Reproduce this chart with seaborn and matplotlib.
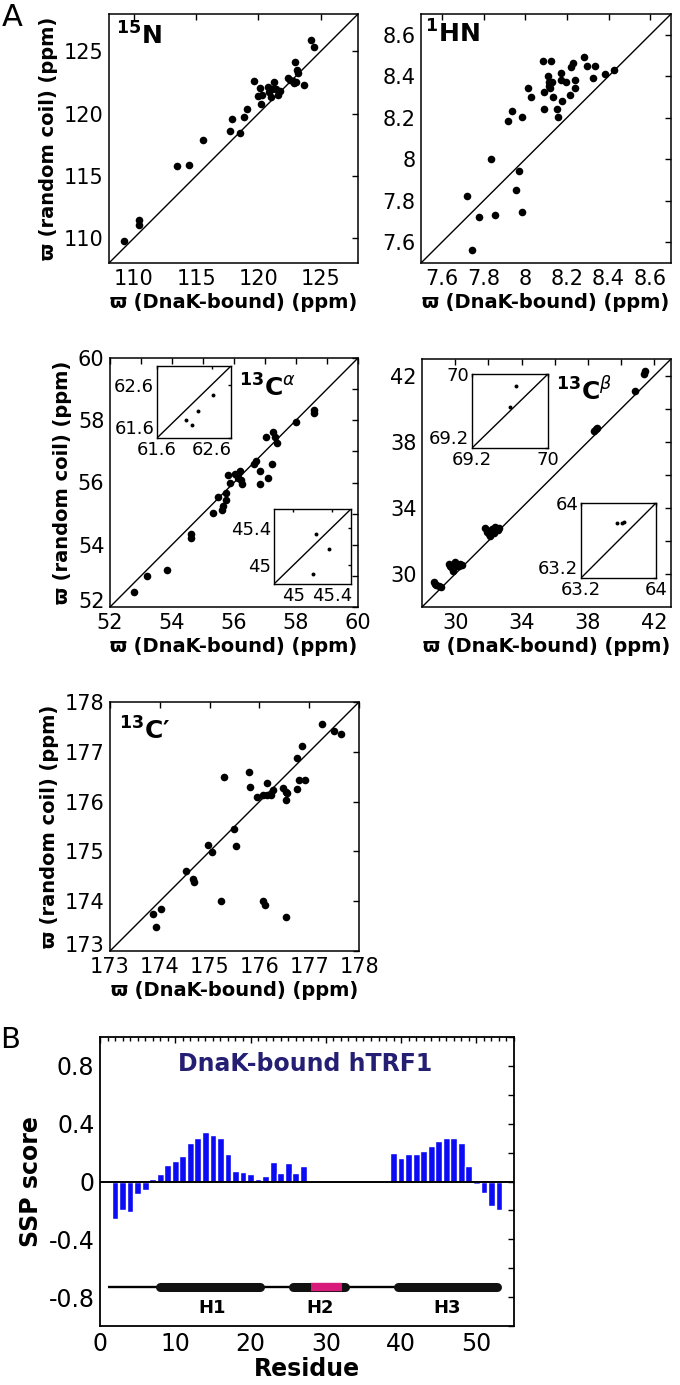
import matplotlib
matplotlib.use("Agg")
import matplotlib.pyplot as plt
from matplotlib.ticker import MultipleLocator
from matplotlib.transforms import ScaledTranslation
import numpy as np
import pandas as pd
import seaborn as sns

# ---------------- data ----------------
n15_bound = [109.23, 110.44, 110.44, 113.49, 114.40, 115.52, 117.75, 117.85, 118.52, 118.84, 119.08,
             119.67, 119.94, 120.15, 120.18, 120.31, 120.74, 120.85, 121.00, 121.28, 121.39, 121.55,
             121.76, 121.06, 122.35, 122.54, 122.94, 123.07, 123.20, 123.00, 123.64, 124.22, 124.49,
             122.75, 122.83]
n15_coil = [109.80, 111.45, 111.05, 115.79, 115.87, 117.85, 118.58, 119.57, 118.42, 119.70, 120.34,
            122.59, 121.44, 122.08, 120.77, 121.49, 122.16, 121.75, 121.35, 122.56, 121.95, 121.49,
            121.84, 122.00, 122.83, 122.70, 124.12, 123.50, 123.23, 122.52, 122.27, 125.91, 125.38,
            122.65, 122.43]

hn_bound = [7.745, 7.722, 7.778, 7.857, 7.836, 7.954, 7.970, 7.986, 7.916, 7.937, 7.986, 8.015,
            8.030, 8.086, 8.124, 8.092, 8.092, 8.110, 8.113, 8.120, 8.128, 8.133, 8.153, 8.158,
            8.172, 8.173, 8.175, 8.197, 8.213, 8.220, 8.228, 8.239, 8.239, 8.284, 8.298, 8.324,
            8.337, 8.382, 8.428, 8.116]
hn_coil = [7.563, 7.823, 7.722, 7.731, 8.003, 7.852, 7.942, 7.744, 8.183, 8.233, 8.202, 8.342,
           8.302, 8.473, 8.473, 8.242, 8.322, 8.403, 8.370, 8.342, 8.373, 8.302, 8.242, 8.202,
           8.414, 8.380, 8.282, 8.373, 8.311, 8.443, 8.462, 8.380, 8.342, 8.491, 8.451, 8.392,
           8.451, 8.411, 8.432, 8.355]

ca_bound = [52.78, 53.20, 53.84, 54.60, 54.61, 55.33, 55.49, 55.60, 55.66, 55.73, 55.75, 55.82,
            55.87, 56.03, 56.12, 56.19, 56.23, 56.27, 56.14, 56.65, 56.70, 56.85, 56.83, 57.02,
            57.11, 57.22, 57.27, 57.32, 57.38, 58.01, 58.59, 58.59]
ca_coil = [52.48, 52.98, 53.19, 54.34, 54.23, 55.03, 55.55, 55.12, 55.25, 55.45, 55.65, 56.25,
           56.00, 56.27, 56.16, 56.38, 56.07, 55.96, 56.27, 56.59, 56.68, 56.36, 55.95, 57.45,
           56.14, 56.59, 57.61, 57.47, 57.26, 57.93, 58.33, 58.23]
ca_in1_bound = [62.62, 62.34, 62.13, 62.23]
ca_in1_coil = [62.41, 62.10, 61.93, 61.85]
ca_in2_bound = [45.24, 45.37, 45.20]
ca_in2_coil = [45.33, 45.17, 44.91]

cb_bound = [28.70, 28.80, 28.86, 29.00, 29.15, 29.60, 29.68, 29.75, 29.87, 30.00, 30.10, 30.20,
            30.30, 30.40, 31.82, 31.90, 31.95, 32.02, 32.12, 32.22, 32.32, 32.42, 32.55, 32.62,
            38.38, 38.48, 38.56, 40.81, 41.35, 41.45]
cb_coil = [29.49, 29.42, 29.35, 29.30, 29.19, 30.60, 30.45, 30.40, 30.20, 30.70, 30.45, 30.50,
           30.62, 30.55, 32.78, 32.55, 32.60, 32.42, 32.32, 32.72, 32.50, 32.82, 32.65, 32.78,
           38.66, 38.77, 38.85, 41.04, 42.10, 42.25]
cb_in1_bound = [69.66, 69.60]
cb_in1_coil = [69.87, 69.64]
cb_in2_bound = [63.58, 63.64, 63.66]
cb_in2_coil = [63.79, 63.79, 63.80]

co_bound = [173.86, 173.92, 174.02, 174.53, 174.67, 174.69, 174.97, 175.05, 175.23, 175.28,
            175.48, 175.53, 175.80, 175.81, 175.95, 176.07, 176.12, 176.08, 176.15, 176.15,
            176.23, 176.28, 176.47, 176.53, 176.56, 176.53, 176.54, 176.76, 176.80, 176.92,
            176.76, 176.86, 177.25, 177.50, 177.63]
co_coil = [173.74, 173.49, 173.84, 174.61, 174.45, 174.39, 175.13, 174.99, 174.00, 176.50,
           175.45, 175.10, 176.59, 176.30, 176.10, 174.00, 173.93, 176.14, 176.14, 176.37,
           176.14, 176.24, 176.27, 176.20, 176.17, 176.03, 173.68, 176.25, 176.43, 176.43,
           176.88, 177.12, 177.56, 177.41, 177.36]

ssp_res = list(range(2, 28)) + list(range(39, 54))
ssp_val = [-0.257, -0.200, -0.210, -0.084, -0.056, 0.016, 0.053, 0.114, 0.140, 0.176, 0.265,
           0.300, 0.340, 0.320, 0.300, 0.190, 0.074, 0.067, 0.053, 0.020, 0.040, 0.135, 0.058,
           0.125, 0.060, 0.110,
           0.197, 0.160, 0.188, 0.188, 0.213, 0.248, 0.278, 0.300, 0.300, 0.265, 0.107, -0.016,
           -0.077, -0.170, -0.197]

helix_names = ["H1", "H2", "H3"]
helix_start = [7.4, 25.0, 39.05]
helix_end = [21.9, 33.1, 53.3]
helix_label_x = [14.9, 29.2, 46.1]
h2_marked = (28.0, 32.1)
ss_coil_span = (1.0, 53.3)

# ---------------- style ----------------
sns.set_theme(style="white")
plt.rcParams["font.family"] = ["DejaVu Sans"]
plt.rcParams["mathtext.fontset"] = "dejavusans"
for k in ["text.color", "axes.labelcolor", "xtick.color", "ytick.color", "axes.edgecolor"]:
    plt.rcParams[k] = "black"

W, H = 680, 1385
fig = plt.figure(figsize=(W / 100, H / 100), dpi=100)


def rect(x0, y0, x1, y1):
    return [x0 / W, 1 - y1 / H, (x1 - x0) / W, (y1 - y0) / H]


def style_axes(ax, lw=1.1):
    for sp in ax.spines.values():
        sp.set_visible(True)
        sp.set_color("black")
        sp.set_linewidth(lw)
    ax.tick_params(which="both", direction="in", top=True, right=True,
                   color="black", width=1.0)
    ax.grid(False)
    ax.set_facecolor("white")


XLAB = "ϖ (DnaK-bound) (ppm)"
YLAB = "ϖ (random coil) (ppm)"


def main_panel(box, bound, coil, lim, ticks, labels, tag, tagpos, ylabel=True,
               lift_corner=False):
    ax = fig.add_axes(rect(*box))
    df = pd.DataFrame({"bound": bound, "coil": coil})
    ax.plot(lim, lim, color="black", lw=1.0, zorder=1)
    sns.scatterplot(data=df, x="bound", y="coil", ax=ax, color="black", s=30,
                    linewidth=0, zorder=3, legend=False)
    ax.set_xlim(lim)
    ax.set_ylim(lim)
    ax.set_xticks(ticks)
    ax.set_xticklabels(labels)
    ax.set_yticks(ticks)
    ax.set_yticklabels(labels)
    style_axes(ax)
    ax.tick_params(which="major", length=4, labelsize=15, pad=4)
    ax.set_xlabel(XLAB, fontsize=14, fontweight="bold", labelpad=3)
    if ylabel:
        ax.set_ylabel(YLAB, fontsize=14, fontweight="bold", labelpad=4)
    else:
        ax.set_ylabel("")
    if lift_corner:
        lab = ax.get_yticklabels()[0]
        lab.set_transform(lab.get_transform() +
                          ScaledTranslation(0, 5 / 72, fig.dpi_scale_trans))
    ax.text(tagpos[0], tagpos[1], tag, transform=ax.transAxes, ha="left", va="top",
            fontsize=18, fontweight="bold")
    return ax


def inset(box, bound, coil, lim, ticks, labels):
    ax = fig.add_axes(rect(*box))
    df = pd.DataFrame({"bound": bound, "coil": coil})
    ax.plot(lim, lim, color="black", lw=1.0, zorder=1)
    sns.scatterplot(data=df, x="bound", y="coil", ax=ax, color="black", s=8,
                    linewidth=0, zorder=3, legend=False)
    ax.set_xlim(lim)
    ax.set_ylim(lim)
    ax.set_xticks(ticks)
    ax.set_xticklabels(labels)
    ax.set_yticks(ticks)
    ax.set_yticklabels(labels)
    style_axes(ax, lw=1.0)
    ax.tick_params(which="major", length=2.5, labelsize=13, pad=2)
    ax.set_xlabel("")
    ax.set_ylabel("")
    if ticks[0] == lim[0]:
        ax.get_yticklabels()[0].set_va("bottom")
    return ax


# 15N
main_panel((109, 14, 358, 263), n15_bound, n15_coil, (108, 128),
           [110, 115, 120, 125], ["110", "115", "120", "125"],
           r"$^{\mathbf{15}}\mathbf{N}$", (0.03, 0.965))
# 1HN
main_panel((421, 14, 671, 263), hn_bound, hn_coil, (7.5, 8.7),
           [7.6, 7.8, 8.0, 8.2, 8.4, 8.6], ["7.6", "7.8", "8", "8.2", "8.4", "8.6"],
           r"$^{\mathbf{1}}\mathbf{HN}$", (0.015, 0.975), ylabel=False)
# 13C alpha
main_panel((110, 358, 358, 607), ca_bound, ca_coil, (52, 60),
           list(range(52, 61)), ["52", "", "54", "", "56", "", "58", "", "60"],
           r"$^{\mathbf{13}}\mathbf{C}^{\alpha}$", (0.52, 0.935), lift_corner=True)
inset((157, 366, 231, 438), ca_in1_bound, ca_in1_coil, (61.6, 62.95),
      [61.6, 62.6], ["61.6", "62.6"])
inset((274, 509, 351, 584), ca_in2_bound, ca_in2_coil, (44.8, 45.6),
      [45.0, 45.4], ["45", "45.4"])
# 13C beta
main_panel((422, 359, 671, 607), cb_bound, cb_coil, (28, 43),
           list(range(30, 43, 2)), ["30", "", "34", "", "38", "", "42"],
           r"$^{\mathbf{13}}\mathbf{C}^{\beta}$", (0.54, 0.93), ylabel=False)
inset((472, 374, 548, 448), cb_in1_bound, cb_in1_coil, (69.2, 70.0),
      [69.2, 70.0], ["69.2", "70"])
inset((581, 503, 656, 578), cb_in2_bound, cb_in2_coil, (63.2, 64.0),
      [63.2, 64.0], ["63.2", "64"])
# 13C'
main_panel((110, 702, 359, 951), co_bound, co_coil, (173, 178),
           list(range(173, 179)), [str(v) for v in range(173, 179)],
           r"$^{\mathbf{13}}\mathbf{C}$" + "′", (0.035, 0.94), lift_corner=True)

# ---------------- panel B ----------------
axb = fig.add_axes(rect(100, 1037, 514, 1326))
dfb = pd.DataFrame({"residue": ssp_res, "ssp": ssp_val})
sns.barplot(data=dfb, x="residue", y="ssp", native_scale=True, color="#0b0bf5",
            saturation=1, width=0.9, errorbar=None, ax=axb, zorder=2)
axb.axhline(0, color="black", lw=1.4, zorder=3)

ss_y = -0.73
cap = 0.6
axb.plot(ss_coil_span, [ss_y, ss_y], color="black", lw=1.7, zorder=3,
         solid_capstyle="butt")
for s0, s1 in zip(helix_start, helix_end):
    axb.plot([s0 + cap, s1 - cap], [ss_y, ss_y], color="#111111", lw=6.5,
             solid_capstyle="round", zorder=4)
axb.plot(h2_marked, [ss_y, ss_y], color="#d81b7a", lw=6.0,
         solid_capstyle="butt", zorder=5)
for name, hx in zip(helix_names, helix_label_x):
    axb.text(hx, -0.875, name, ha="center", va="center", fontsize=13,
             fontweight="bold")

axb.text(27.3, 0.81, "DnaK-bound hTRF1", ha="center", va="center",
         color="#241f72", fontsize=17, fontweight="bold")

axb.set_xlim(0, 55)
axb.set_ylim(-1, 1)
axb.set_xticks([0, 10, 20, 30, 40, 50])
axb.set_xticklabels(["0", "10", "20", "30", "40", "50"])
axb.xaxis.set_minor_locator(MultipleLocator(1))
yt = [-1.0, -0.8, -0.6, -0.4, -0.2, 0.0, 0.2, 0.4, 0.6, 0.8, 1.0]
axb.set_yticks(yt)
axb.set_yticklabels(["", "-0.8", "", "-0.4", "", "0", "", "0.4", "", "0.8", ""])
style_axes(axb, lw=1.3)
axb.tick_params(which="major", length=4, labelsize=17, pad=4)
axb.tick_params(which="minor", length=3)
axb.set_xlabel("Residue", fontsize=17, fontweight="bold", labelpad=1)
axb.set_ylabel("SSP score", fontsize=17, fontweight="bold", labelpad=4)

fig.text(2 / W, 1 - 3 / H, "A", ha="left", va="top", fontsize=22)
fig.text(0 / W, 1 - 1026 / H, "B", ha="left", va="top", fontsize=21)

fig.savefig("out.png", dpi=100, facecolor="white")
